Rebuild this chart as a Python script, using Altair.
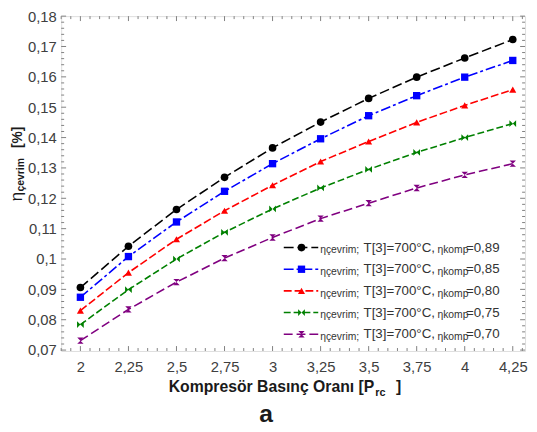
import altair as alt
import pandas as pd
import numpy as np

# ---- data ----
P_RC = [2, 2.25, 2.5, 2.75, 3, 3.25, 3.5, 3.75, 4, 4.25]
ETA_089 = [0.0906, 0.1042, 0.1163, 0.1269, 0.1366, 0.1451, 0.1529, 0.1599, 0.1662, 0.1723]
ETA_085 = [0.0874, 0.1008, 0.1122, 0.1223, 0.1314, 0.1396, 0.1472, 0.1538, 0.1599, 0.1654]
ETA_080 = [0.0830, 0.0955, 0.1065, 0.1159, 0.1243, 0.1321, 0.1387, 0.1450, 0.1506, 0.1558]
ETA_075 = [0.0784, 0.0899, 0.1000, 0.1088, 0.1165, 0.1234, 0.1295, 0.1351, 0.1400, 0.1446]
ETA_070 = [0.0731, 0.0834, 0.0924, 0.1003, 0.1071, 0.1133, 0.1184, 0.1234, 0.1277, 0.1314]
LABELS = ["0,89", "0,85", "0,80", "0,75", "0,70"]
X_TICKS = [2, 2.25, 2.5, 2.75, 3, 3.25, 3.5, 3.75, 4, 4.25]
Y_TICKS = [0.07, 0.08, 0.09, 0.1, 0.11, 0.12, 0.13, 0.14, 0.15, 0.16, 0.17, 0.18]

# ---- styles ----
COLORS = ["#000000", "#0000ff", "#ff0000", "#008000", "#800080"]
BOWTIE = "M-1,-1L0,0L-1,1Z M1,-1L0,0L1,1Z"
HOURGLASS = "M-1,-1L1,-1L0,0Z M-1,1L1,1L0,0Z"
SHAPES = ["circle", "square", "triangle-up", BOWTIE, HOURGLASS]
SIZES = [60, 42, 64, 50, 50]
DASHES = [[10, 4], [10, 3, 3, 3], [8, 3], [7, 3], [9, 4]]
GRAY = "#808080"
FONT = "Liberation Sans"

W, H = 471, 340
series = [ETA_089, ETA_085, ETA_080, ETA_075, ETA_070]
df = pd.DataFrame(
    [{"P": p, "eta": v, "s": lab} for lab, vals in zip(LABELS, series) for p, v in zip(P_RC, vals)]
)

xscale = alt.Scale(domain=[1.9, 4.314], nice=False, zero=False)
yscale = alt.Scale(domain=[0.0697, 0.18], nice=False, zero=False)
xaxis = alt.Axis(values=X_TICKS, labelExpr="replace(toString(datum.value), '.', ',')",
                 ticks=False, domain=False, grid=False, title=None, labelFontSize=15,
                 labelColor="#404040", labelPadding=9, labelFlush=False, labelOverlap=False,
                 labelFont=FONT)
yaxis = alt.Axis(values=Y_TICKS, labelExpr="replace(format(datum.value, '.2~f'), '.', ',')",
                 ticks=False, domain=False, grid=False, title=None, labelFontSize=15,
                 labelColor="#404040", labelPadding=5, labelOverlap=False, labelFont=FONT)

color = alt.Color("s:N", scale=alt.Scale(domain=LABELS, range=COLORS), legend=None)
dash = alt.StrokeDash("s:N", scale=alt.Scale(domain=LABELS, range=DASHES), legend=None)
shape = alt.Shape("s:N", scale=alt.Scale(domain=LABELS, range=SHAPES), legend=None)
size = alt.Size("s:N", scale=alt.Scale(domain=LABELS, range=SIZES), legend=None)

X = alt.X("P:Q", scale=xscale, axis=xaxis)
Y = alt.Y("eta:Q", scale=yscale, axis=yaxis)

lines = alt.Chart(df).mark_line(strokeWidth=1.6).encode(x=X, y=Y, color=color, strokeDash=dash)
points = alt.Chart(df).mark_point(filled=True, opacity=1).encode(x=X, y=Y, color=color, shape=shape, size=size)

# ---- inward ticks on all four sides ----
majx = set(round(v, 3) for v in X_TICKS)
minor_x = [round(v, 3) for v in np.arange(1.9, 4.315, 0.05) if round(v, 3) not in majx]
majy = set(round(v, 4) for v in Y_TICKS)
minor_y = [round(v, 4) for v in np.arange(0.07, 0.1801, 0.002) if round(v, 4) not in majy]

tick_layers = []
for vals, ln in [(X_TICKS, 5), (minor_x, 3)]:
    d = pd.DataFrame({"P": vals})
    xt = alt.X("P:Q", scale=xscale, axis=xaxis)
    tick_layers.append(alt.Chart(d).mark_rule(color=GRAY, strokeWidth=1).encode(
        x=xt, y=alt.value(H), y2=alt.value(H - ln)))
    tick_layers.append(alt.Chart(d).mark_rule(color=GRAY, strokeWidth=1).encode(
        x=xt, y=alt.value(0), y2=alt.value(ln)))
for vals, ln in [(Y_TICKS, 5), (minor_y, 3)]:
    d = pd.DataFrame({"eta": vals})
    yt = alt.Y("eta:Q", scale=yscale, axis=yaxis)
    tick_layers.append(alt.Chart(d).mark_rule(color=GRAY, strokeWidth=1).encode(
        y=yt, x=alt.value(0), x2=alt.value(ln)))
    tick_layers.append(alt.Chart(d).mark_rule(color=GRAY, strokeWidth=1).encode(
        y=yt, x=alt.value(W), x2=alt.value(W - ln)))

# ---- custom legend (subscripted labels) ----
leg = pd.DataFrame({
    "s": LABELS,
    "py": [235 + 22 * i for i in range(len(LABELS))],
})
leg["py_small"] = leg["py"] + 3
leg["t1"] = "ηçevrim;"
leg["t2"] = "T[3]=700°C,"
leg["t3"] = "ηkomp"
leg["t4"] = ["=" + l for l in LABELS]
LY = alt.Y("py:Q", scale=None)
LYS = alt.Y("py_small:Q", scale=None)
leg_line = alt.Chart(leg).mark_rule(strokeWidth=1.6).encode(
    x=alt.value(226), x2=alt.value(261), y=LY, color=color, strokeDash=dash)
leg_pt = alt.Chart(leg).mark_point(filled=True, opacity=1).encode(
    x=alt.value(244), y=LY, color=color, shape=shape, size=size)
leg_t1 = alt.Chart(leg).mark_text(align="left", baseline="middle", fontSize=10.5, font=FONT, color="#333333").encode(
    x=alt.value(263), y=LYS, text="t1:N")
leg_t2 = alt.Chart(leg).mark_text(align="left", baseline="middle", fontSize=13.5, font=FONT, color="#333333").encode(
    x=alt.value(307), y=LY, text="t2:N")
leg_t3 = alt.Chart(leg).mark_text(align="left", baseline="middle", fontSize=10.5, font=FONT, color="#333333").encode(
    x=alt.value(382), y=LYS, text="t3:N")
leg_t4 = alt.Chart(leg).mark_text(align="left", baseline="middle", fontSize=13.5, font=FONT, color="#333333").encode(
    x=alt.value(411), y=LY, text="t4:N")

# ---- titles ----
def txt(t, x, y, **kw):
    return alt.Chart(pd.DataFrame({"t": [t]})).mark_text(font=FONT, color="#1a1a1a", **kw).encode(
        x=alt.value(x), y=alt.value(y), text="t:N")

titles = [
    txt("Kompresör Basınç Oranı [P", 318, 382, align="right", baseline="alphabetic", fontSize=16, fontWeight="bold"),
    txt("rc", 319, 386, align="left", baseline="alphabetic", fontSize=11, fontWeight="bold"),
    txt("]", 340, 382, align="left", baseline="alphabetic", fontSize=16, fontWeight="bold"),
    txt("a", 208, 412, align="center", baseline="alphabetic", fontSize=25, fontWeight="bold"),
    txt("η", -45, 188, align="left", baseline="middle", fontSize=17, angle=270),
    txt("çevrim", -41, 178, align="left", baseline="middle", fontSize=10.5, fontWeight="bold", angle=270),
    txt("[%]", -44, 134, align="left", baseline="middle", fontSize=14, fontWeight="bold", angle=270),
]

chart = alt.layer(
    *tick_layers, lines, points, leg_line, leg_pt, leg_t1, leg_t2, leg_t3, leg_t4, *titles
).properties(
    width=W, height=H, autosize="none",
    padding={"left": 54, "top": 5, "right": 4, "bottom": 79},
).configure_view(stroke=GRAY, strokeWidth=1).configure(font=FONT, background="white")

chart.save("out.html", embed_options={"renderer": "svg", "actions": False})
